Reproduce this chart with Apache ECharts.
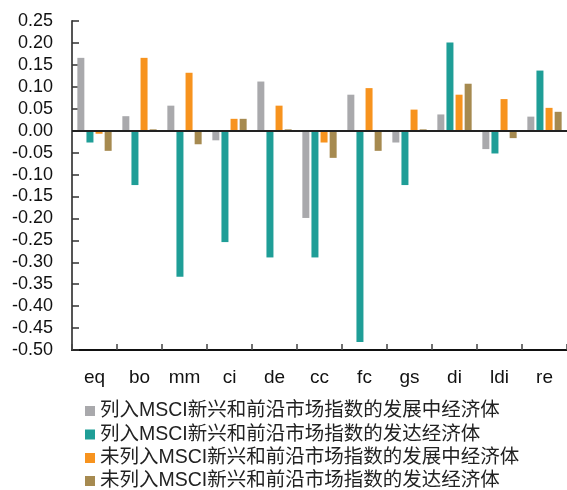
<!DOCTYPE html>
<html>
<head>
<meta charset="utf-8">
<script src="https://cdn.jsdelivr.net/npm/echarts@6/dist/echarts.min.js"></script>
<style>
  html, body { margin: 0; padding: 0; background: #ffffff; }
  #chart { width: 567px; height: 490px; }
</style>
</head>
<body>
<div id="chart"></div>
<script>
// Asset categories on the x axis
var categories = ['eq', 'bo', 'mm', 'ci', 'de', 'cc', 'fc', 'gs', 'di', 'ldi', 're'];

// Series names (legend entries)
var seriesNames = [
  '列入MSCI新兴和前沿市场指数的发展中经济体',
  '列入MSCI新兴和前沿市场指数的发达经济体',
  '未列入MSCI新兴和前沿市场指数的发展中经济体',
  '未列入MSCI新兴和前沿市场指数的发达经济体'
];

// Values per category, one array per series
var inMsciDeveloping    = [0.166, 0.033, 0.057, -0.022, 0.112, -0.199, 0.082, -0.027, 0.037, -0.042, 0.032];
var inMsciDeveloped     = [-0.027, -0.124, -0.333, -0.254, -0.289, -0.289, -0.482, -0.124, 0.201, -0.052, 0.137];
var notInMsciDeveloping = [-0.007, 0.166, 0.132, 0.027, 0.057, -0.027, 0.097, 0.048, 0.082, 0.072, 0.052];
var notInMsciDeveloped  = [-0.046, 0.003, -0.031, 0.027, 0.003, -0.062, -0.046, 0.003, 0.107, -0.017, 0.043];

var seriesValues = [inMsciDeveloping, inMsciDeveloped, notInMsciDeveloping, notInMsciDeveloped];
var seriesColors = ['#a9a9ac', '#1f9e97', '#f7931e', '#a68a50'];

var chart = echarts.init(document.getElementById('chart'), null, { renderer: 'canvas' });

var series = seriesValues.map(function (vals, i) {
  var s = {
    name: seriesNames[i],
    type: 'bar',
    data: vals,
    barWidth: 7,
    barGap: '30%',
    itemStyle: { color: seriesColors[i] }
  };
  if (i === 0) {
    // baseline at zero across the whole plot
    s.markLine = {
      silent: true,
      symbol: ['none', 'none'],
      label: { show: false },
      lineStyle: { color: '#222222', width: 2, type: 'solid' },
      data: [{ yAxis: 0 }],
      animation: false
    };
  }
  return s;
});

// one single-row legend per series, stacked below the plot
var legendRowTops = [401, 424.5, 448, 471];
var legends = seriesNames.map(function (name, i) {
  return {
    orient: 'vertical',
    left: 85,
    top: legendRowTops[i],
    padding: 0,
    icon: 'rect',
    itemWidth: 10,
    itemHeight: 10,
    data: [name],
    textStyle: {
      fontFamily: 'Liberation Sans, "Noto Sans CJK SC", sans-serif',
      fontSize: 19.5,
      lineHeight: 20,
      color: '#222222'
    }
  };
});

chart.setOption({
  animation: false,
  backgroundColor: '#ffffff',
  grid: { left: 72, right: -7, top: 21, bottom: 140 },
  legend: legends,
  xAxis: {
    type: 'category',
    data: categories,
    position: 'bottom',
    axisLine: { onZero: false, lineStyle: { color: '#111111', width: 2 } },
    axisTick: { show: true, inside: true, length: 6, alignWithLabel: false, lineStyle: { color: '#444444', width: 1.5 } },
    axisLabel: {
      margin: 18,
      fontFamily: 'Liberation Sans, Arial, sans-serif',
      fontSize: 19,
      color: '#111111'
    },
    splitLine: { show: false }
  },
  yAxis: {
    type: 'value',
    min: -0.5,
    max: 0.25,
    interval: 0.05,
    axisLine: { show: true, lineStyle: { color: '#555555', width: 2 } },
    axisTick: { show: true, inside: true, length: 7, lineStyle: { color: '#333333', width: 1.5 } },
    axisLabel: {
      margin: 19,
      fontFamily: 'Liberation Sans, Arial, sans-serif',
      fontSize: 18,
      color: '#111111',
      formatter: function (v) { return v.toFixed(2); }
    },
    splitLine: { show: false }
  },
  series: series
});
</script>
</body>
</html>
